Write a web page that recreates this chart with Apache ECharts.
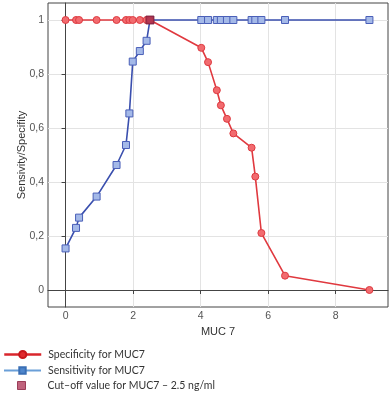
<!DOCTYPE html>
<html>
<head>
<meta charset="utf-8">
<script src="https://cdn.jsdelivr.net/npm/echarts@6/dist/echarts.min.js"></script>
<style>
  html, body { margin: 0; padding: 0; background: #fff; }
  #muc7 { width: 392px; height: 393px; }
</style>
</head>
<body>
<div id="muc7"></div>
<script>
// MUC7 values
const muc7X = [0, 0.31, 0.4, 0.92, 1.51, 1.79, 1.89, 1.99, 2.2, 2.4, 2.5,
               4.02, 4.22, 4.48, 4.6, 4.78, 4.97, 5.51, 5.62, 5.8, 6.5, 9.0];
const specificity = [1, 1, 1, 1, 1, 1, 1, 1, 1, 1, 1,
                     0.897, 0.844, 0.74, 0.684, 0.634, 0.58, 0.527, 0.42, 0.211, 0.053, 0];
const sensitivity = [0.154, 0.23, 0.268, 0.346, 0.463, 0.537, 0.654, 0.846, 0.885, 0.923, 1,
                     1, 1, 1, 1, 1, 1, 1, 1, 1, 1, 1];
const cutoff = [[2.5, 1]];
const xTicks = [0, 2, 4, 6, 8];
const yTicks = [0, 0.2, 0.4, 0.6, 0.8, 1];
const seriesNames = ['Specificity for MUC7', 'Sensitivity for MUC7', 'Cut\u2013off value for MUC7 \u2013 2.5 ng/ml'];

let chart = echarts.init(document.getElementById('muc7'))
let pairs = (ys) => muc7X.map((x, i) => [x, ys[i]])
let legendText = { fontFamily: 'Lato', fontSize: 10.5, color: '#333', padding: [0, 0, 0, 2] }

let option = {
  animation: false,
  textStyle: { fontFamily: 'Liberation Sans' },
  grid: {
    left: 48, right: 4, top: 3, bottom: 86,
    show: true,
    borderColor: '#444',
    borderWidth: 1
  },
  legend: [
    {
      left: 3, top: 349, padding: 0,
      itemWidth: 37, itemHeight: 9,
      textStyle: legendText,
      data: [{ name: seriesNames[0], itemStyle: { color: '#e02a2f', borderColor: '#c8161c' }, lineStyle: { color: '#d9262c', width: 2.5 } }]
    },
    {
      left: 3, top: 365, padding: 0,
      itemWidth: 37, itemHeight: 8,
      textStyle: legendText,
      data: [{ name: seriesNames[1], itemStyle: { color: '#4f86cc', borderColor: '#3a6fb5' }, lineStyle: { color: '#6a9fd8', width: 2 } }]
    },
    {
      left: 17, top: 380, padding: 0,
      itemWidth: 8, itemHeight: 8, itemGap: 0,
      textStyle: { fontFamily: 'Lato', fontSize: 10.5, color: '#333', padding: [0, 0, 0, 17] },
      data: [{ name: seriesNames[2], icon: 'rect', itemStyle: { color: '#b03c5c', borderColor: '#8a2040', borderWidth: 1 } }]
    }
  ],
  xAxis: {
    type: 'value',
    min: -0.52,
    max: 9.55,
    name: 'MUC 7',
    nameLocation: 'middle',
    nameGap: 17,
    nameTextStyle: { fontSize: 11, color: '#333' },
    axisLine: { show: true, lineStyle: { color: '#444' } },
    axisTick: { show: true, length: 4, customValues: xTicks, lineStyle: { color: '#444' } },
    axisLabel: { customValues: xTicks, fontSize: 10.5, color: '#555', margin: 4 },
    splitLine: { show: true, lineStyle: { color: '#e3e3e3' } }
  },
  yAxis: {
    type: 'value',
    min: -0.063,
    max: 1.063,
    name: 'Sensivity/Specifity',
    nameLocation: 'middle',
    nameGap: 21,
    nameMoveOverlap: false,
    nameTextStyle: { fontSize: 11, color: '#333' },
    axisLine: { show: true, lineStyle: { color: '#444' } },
    axisTick: { show: true, length: 4, customValues: yTicks, lineStyle: { color: '#444' } },
    axisLabel: {
      customValues: yTicks,
      fontSize: 10.5,
      color: '#555',
      margin: 4,
      formatter(v) {
        if (v === 0 || v === 1) return String(v)
        return v.toFixed(1).replace('.', ',')
      }
    },
    splitLine: { show: true, lineStyle: { color: '#e3e3e3' } }
  },
  series: [
    {
      name: seriesNames[0],
      type: 'line',
      data: pairs(specificity),
      symbol: 'circle',
      symbolSize: 7,
      z: 3,
      lineStyle: { color: '#e0393f', width: 1.6 },
      itemStyle: { color: '#f26b6f', borderColor: '#dd3a40', borderWidth: 1 }
    },
    {
      name: seriesNames[1],
      type: 'line',
      data: pairs(sensitivity),
      symbol: 'rect',
      symbolSize: 7,
      z: 2,
      lineStyle: { color: '#3a4fae', width: 1.6 },
      itemStyle: { color: '#a4b9e8', borderColor: '#4a5fb8', borderWidth: 1 }
    },
    {
      name: seriesNames[2],
      type: 'scatter',
      data: cutoff,
      symbol: 'rect',
      symbolSize: 8,
      z: 5,
      itemStyle: { color: '#a32c4c', borderColor: '#7a1a35', borderWidth: 1 }
    }
  ]
}
option && chart.setOption(option)
window.addEventListener('resize', function () {
  chart.resize()
})
</script>
</body>
</html>
